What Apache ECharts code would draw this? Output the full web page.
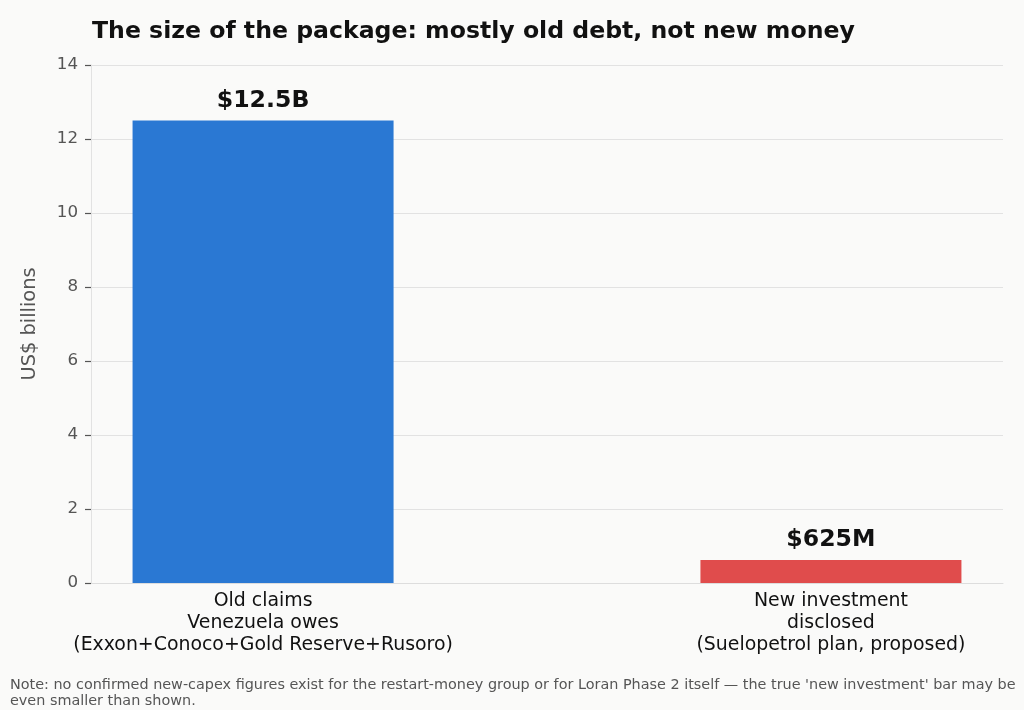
<!DOCTYPE html>
<html>
<head>
<meta charset="utf-8">
<script src="https://cdn.jsdelivr.net/npm/echarts@6/dist/echarts.min.js"></script>
<style>
  html, body { margin: 0; padding: 0; background: #fafaf9; }
  #chart { width: 1024px; height: 710px; }
</style>
</head>
<body>
<div id="chart"></div>
<script>
// 数据
const categories = [
    'Old claims\nVenezuela owes\n(Exxon+Conoco+Gold Reserve+Rusoro)',
    'New investment\ndisclosed\n(Suelopetrol plan, proposed)'
];
const values = [12.5, 0.625];
const valueLabels = ['$12.5B', '$625M'];
const barColors = ['#2a78d3', '#e04c4c'];

const font = 'DejaVu Sans';
const myChart = echarts.init(document.getElementById('chart'));

myChart.setOption({
    backgroundColor: '#fafaf9',
    animation: false,
    textStyle: { fontFamily: font },
    title: {
        text: 'The size of the package: mostly old debt, not new money',
        left: 87,
        top: 15,
        textStyle: { fontFamily: font, fontSize: 23.6, fontWeight: 'bold', color: '#111' }
    },
    graphic: [{
        type: 'text',
        left: 10,
        top: 677,
        style: {
            text: "Note: no confirmed new-capex figures exist for the restart-money group or for Loran Phase 2 itself \u2014 the true 'new investment' bar may be\neven smaller than shown.",
            font: '14.4px "DejaVu Sans"',
            fill: '#555',
            lineHeight: 16
        }
    }],
    grid: { left: 91, right: 21, top: 65, bottom: 127 },
    xAxis: {
        type: 'value',
        min: -0.303,
        max: 1.303,
        splitLine: { show: false },
        axisLine: { show: true, lineStyle: { color: '#dddddd' } },
        axisTick: { show: false },
        axisLabel: {
            customValues: [0, 1],
            formatter: v => categories[Math.round(v)],
            color: '#111',
            fontSize: 18.9,
            lineHeight: 22,
            margin: 7
        }
    },
    yAxis: {
        type: 'value',
        min: 0,
        max: 14,
        interval: 2,
        name: 'US$ billions',
        nameLocation: 'middle',
        nameGap: 52,
        nameTextStyle: { fontSize: 19.4, color: '#555' },
        axisLine: { show: true, onZero: false, lineStyle: { color: '#e2e2e2' } },
        axisTick: { show: true, length: 6, lineStyle: { color: '#555', width: 1.2 } },
        axisLabel: { color: '#555', fontSize: 16.7, margin: 13 },
        splitLine: { lineStyle: { color: '#e2e2e2' } }
    },
    series: [{
        type: 'bar',
        barWidth: 261,
        data: values.map((v, i) => ({
            value: [i, v],
            itemStyle: { color: barColors[i] }
        })),
        label: {
            show: true,
            position: 'top',
            distance: 8,
            formatter: p => valueLabels[p.dataIndex],
            fontSize: 23.6,
            fontWeight: 'bold',
            color: '#111'
        }
    }]
});

window.addEventListener('resize', () => {
    myChart.resize();
});
</script>
</body>
</html>
